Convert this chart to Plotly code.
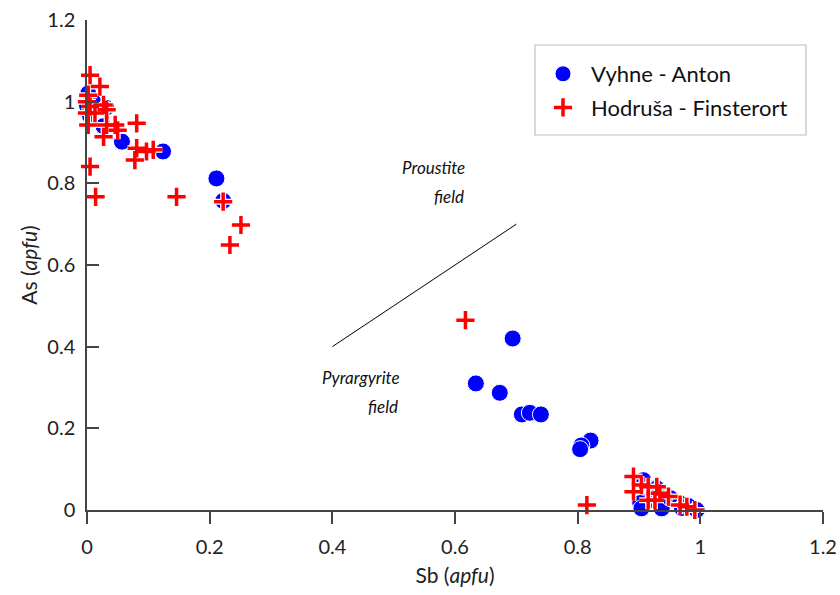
import plotly.graph_objects as go

# Vyhne - Anton (blue circles)
vy_sb = [0.002, 0.000, 0.005, 0.010, 0.031, 0.027, 0.057, 0.124, 0.211, 0.222,
         0.694, 0.634, 0.673, 0.709, 0.722, 0.740, 0.821, 0.806, 0.804,
         0.907, 0.929, 0.918, 0.902, 0.904, 0.937, 0.951, 0.967, 0.970, 0.980, 0.994]
vy_as = [1.020, 0.990, 0.965, 1.000, 0.985, 0.940, 0.902, 0.878, 0.812, 0.757,
         0.420, 0.310, 0.287, 0.234, 0.238, 0.234, 0.170, 0.158, 0.149,
         0.073, 0.053, 0.024, 0.017, 0.004, 0.004, 0.029, 0.016, 0.005, 0.010, 0.000]

# Hodruša - Finsterort (red crosses)
ho_sb = [0.005, 0.021, 0.002, 0.000, 0.005, 0.000, 0.002, 0.027, 0.032, 0.013,
         0.032, 0.046, 0.027, 0.050, 0.081, 0.081, 0.078, 0.097, 0.108,
         0.005, 0.014, 0.146, 0.222, 0.251, 0.233,
         0.617, 0.815,
         0.891, 0.904, 0.891, 0.915, 0.929, 0.915, 0.934, 0.948, 0.926,
         0.967, 0.978, 0.991]
ho_as = [1.065, 1.037, 1.016, 1.000, 0.988, 0.972, 0.943, 0.992, 0.980, 0.972,
         0.943, 0.943, 0.914, 0.930, 0.947, 0.886, 0.857, 0.878, 0.882,
         0.841, 0.767, 0.767, 0.755, 0.698, 0.649,
         0.465, 0.012,
         0.082, 0.061, 0.045, 0.057, 0.057, 0.024, 0.041, 0.033, 0.024,
         0.012, 0.008, 0.000]

x_ticks = [0, 0.2, 0.4, 0.6, 0.8, 1.0, 1.2]
x_tick_labels = ["0", "0.2", "0.4", "0.6", "0.8", "1", "1.2"]
y_ticks = [0, 0.2, 0.4, 0.6, 0.8, 1.0, 1.2]
y_tick_labels = ["0", "0.2", "0.4", "0.6", "0.8", "1", "1.2"]

FONT = "Lato"
W, H = 840, 595
L, R, T, B = 87, 17, 20, 85
pw, ph = W - L - R, H - T - B

def px_x(p):
    return (p - L) / pw

def px_y(p):
    return (H - B - p) / ph

fig = go.Figure()

fig.add_trace(go.Scatter(
    x=vy_sb, y=vy_as, mode="markers", name="Vyhne - Anton",
    legendgroup="a",
    marker=dict(symbol="circle", size=17, color="#0000ff",
                line=dict(color="white", width=1)),
    cliponaxis=False))

fig.add_trace(go.Scatter(
    x=ho_sb, y=ho_as, mode="markers", showlegend=False, hoverinfo="skip",
    marker=dict(symbol="cross-thin", size=13, color="white",
                line=dict(color="white", width=6)),
    cliponaxis=False))

fig.add_trace(go.Scatter(
    x=ho_sb, y=ho_as, mode="markers", name="Hodruša - Finsterort",
    legendgroup="b",
    marker=dict(symbol="cross-thin", size=13, color="#ff0000",
                line=dict(color="#ff0000", width=3.5)),
    cliponaxis=False))

# field boundary line
fig.add_shape(type="line", x0=0.4, y0=0.4, x1=0.7, y1=0.7,
              xref="x", yref="y", line=dict(color="black", width=1))

# legend box
fig.add_shape(type="rect", xref="paper", yref="paper",
              x0=px_x(535), x1=px_x(806), y0=px_y(135), y1=px_y(45),
              line=dict(color="#c0c0c0", width=1.2), fillcolor="white",
              layer="below")

ann_font = dict(family=FONT, size=17, color="#111")
for txt, xx, yy in [("Proustite", 0.6195, 0.8376), ("field", 0.6179, 0.7666),
                    ("Pyrargyrite", 0.5136, 0.3233), ("field", 0.5104, 0.2523)]:
    fig.add_annotation(x=xx, y=yy, xref="x", yref="y", text=f"<i>{txt}</i>",
                       showarrow=False, xanchor="right", yanchor="middle",
                       font=ann_font)

axis_common = dict(
    range=[0, 1.2], showgrid=False, zeroline=False, showline=True,
    linecolor="#444", linewidth=1.5, tickcolor="#444", tickwidth=1.5,
    ticklen=12, tickfont=dict(family=FONT, size=20, color="#222"),
    automargin=False,
)

fig.update_layout(
    width=W, height=H,
    margin=dict(l=L, r=R, t=T, b=B),
    paper_bgcolor="white", plot_bgcolor="white",
    font=dict(family=FONT, color="#222"),
    xaxis=dict(**axis_common, ticks="outside", tickvals=x_ticks,
               ticktext=x_tick_labels, ticklabelstandoff=6,
               title=dict(text="Sb (<i>apfu</i>)", standoff=12,
                          font=dict(family=FONT, size=21, color="#222"))),
    yaxis=dict(**axis_common, ticks="inside", tickvals=y_ticks,
               ticktext=y_tick_labels, ticklabelstandoff=6,
               title=dict(text="As (<i>apfu</i>)", standoff=4,
                          font=dict(family=FONT, size=21, color="#222"))),
    legend=dict(x=px_x(535), y=px_y(53), xanchor="left", yanchor="top",
                bgcolor="rgba(0,0,0,0)", borderwidth=0, itemwidth=46,
                font=dict(family=FONT, size=22, color="#111"),
                tracegroupgap=2),
    showlegend=True,
)

fig.write_html("out.html")
